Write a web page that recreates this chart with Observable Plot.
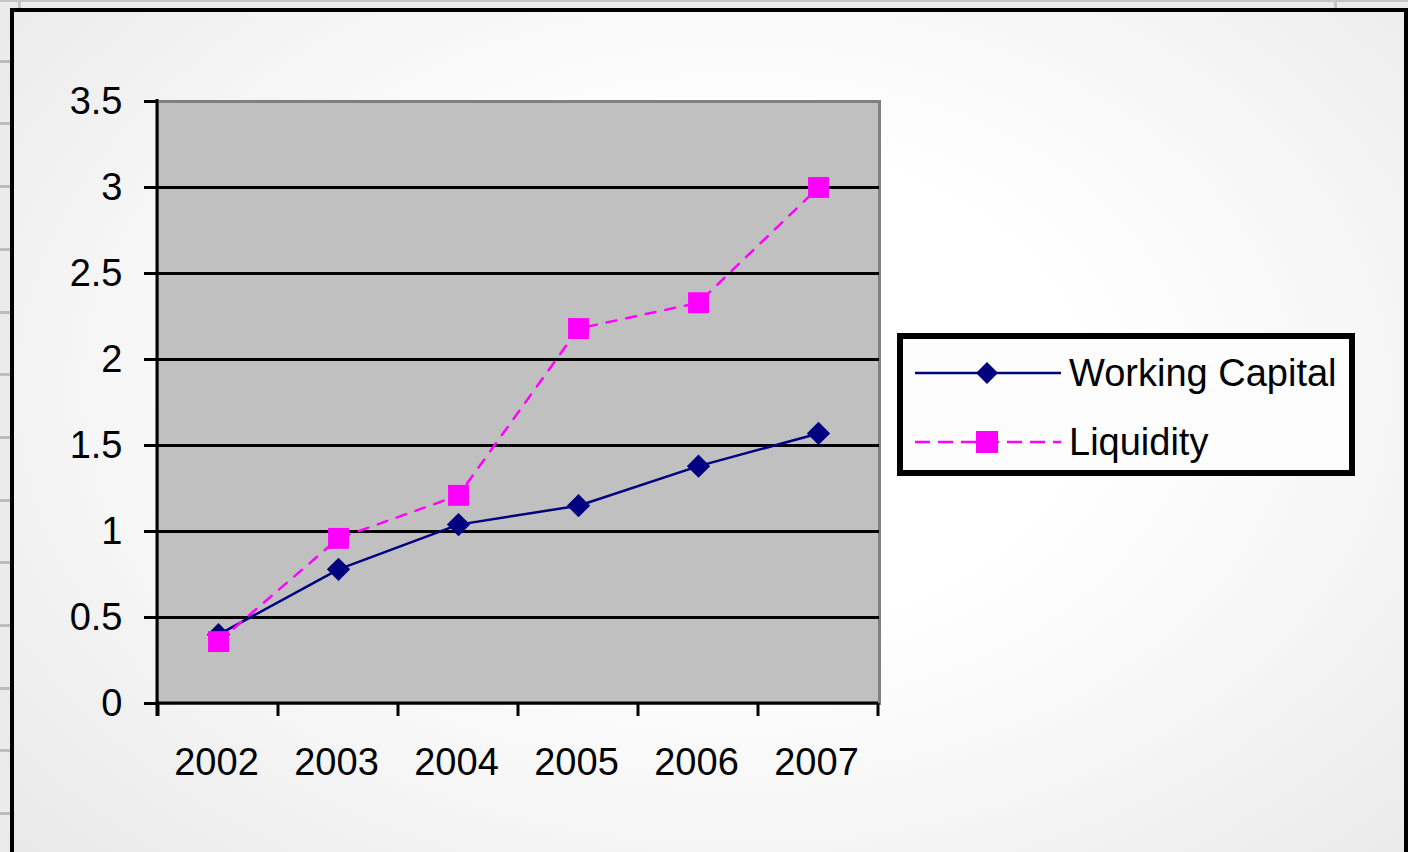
<!DOCTYPE html>
<html>
<head>
<meta charset="utf-8">
<script src="https://cdn.jsdelivr.net/npm/d3@7"></script>
<script src="https://cdn.jsdelivr.net/npm/@observablehq/plot@0.6"></script>
<style>
  html, body { margin: 0; padding: 0; width: 1408px; height: 852px; overflow: hidden; }
  body { background: #ebebeb; position: relative; font-family: "Liberation Sans", Arial, sans-serif; }
  #rows { position: absolute; left: 0; top: 0; width: 10px; height: 852px;
    background: repeating-linear-gradient(to bottom, transparent 0px, transparent 59.7px, #bcbcbc 59.7px, #bcbcbc 62.7px, transparent 62.7px, transparent 61.7px);
  }
  #topline { position: absolute; left: 0; top: 0; width: 1408px; height: 2px; background: #c4c4c4; }
  .vcol { position: absolute; top: 0; width: 3px; height: 8px; background: #c4c4c4; }
  #frame { position: absolute; left: 10px; top: 8px; width: 1390px; height: 900px;
    border: 4px solid #000; box-sizing: content-box;
    background: radial-gradient(ellipse 70% 75% at 52% 42%, #ffffff 35%, #f6f6f6 65%, #e9e9e9 100%);
  }
  #chart { position: absolute; left: -1px; top: 0; }
  #legend { position: absolute; left: 897px; top: 333px; width: 446px; height: 131px;
    border: 6px solid #000; background: #fdfdfd; }
  .item { position: absolute; left: 0; height: 40px; display: flex; align-items: center; }
  .item svg { margin-left: 12px; }
  .item span { margin-left: 8px; font-size: 38px; color: #000; line-height: 40px; }
</style>
</head>
<body>
<div id="topline"></div>
<div class="vcol" style="left:18px"></div>
<div class="vcol" style="left:1334px"></div>
<div id="rows"></div>
<div id="frame"></div>
<div id="chart"></div>
<div id="legend"></div>
<script>
const years = ["2002", "2003", "2004", "2005", "2006", "2007"];
const workingCapital = [0.40, 0.78, 1.04, 1.15, 1.38, 1.57];
const liquidity = [0.36, 0.96, 1.21, 2.18, 2.33, 3.00];
const yTicks = [0, 0.5, 1, 1.5, 2, 2.5, 3, 3.5];
const seriesNames = ["Working Capital", "Liquidity"];

const NAVY = "#000080", MAGENTA = "#ff00ff";
const wc = years.map((year, i) => ({year, value: workingCapital[i]}));
const lq = years.map((year, i) => ({year, value: liquidity[i]}));

function axisLines(index, scales) {
  const x = scales.x, y = scales.y;
  const bw = typeof x.bandwidth === "function" ? x.bandwidth() : scales.scales.x.bandwidth;
  const edges = years.map(v => x(v));
  edges.push(edges[edges.length - 1] + bw);
  const y0 = y(0), yTop = y(3.5);
  const g = d3.create("svg:g").attr("stroke", "#000").attr("stroke-width", 3);
  g.selectAll("line.tk").data(edges).join("line").attr("class", "tk")
    .attr("x1", d => d).attr("x2", d => d).attr("y1", y0).attr("y2", y0 + 13);
  g.append("line").attr("x1", edges[0]).attr("x2", edges[edges.length - 1]).attr("y1", y0).attr("y2", y0);
  g.append("line").attr("x1", edges[0] - 1).attr("x2", edges[0] - 1).attr("y1", yTop - 2).attr("y2", y0 + 13);
  return g.node();
}

const plot = Plot.plot({
  width: 900,
  height: 800,
  marginLeft: 158,
  marginRight: 20,
  marginTop: 101,
  marginBottom: 97,
  style: {background: "transparent", overflow: "visible", fontFamily: "'Liberation Sans', Arial, sans-serif", fontSize: "38px", color: "#000"},
  x: {type: "band", domain: years, padding: 0, label: null},
  y: {domain: [0, 3.5], label: null},
  marks: [
    Plot.frame({fill: "#c0c0c0", stroke: "#808080", strokeWidth: 3}),
    Plot.ruleY(yTicks.filter(t => t > 0 && t < 3.5), {stroke: "#000", strokeWidth: 3}),
    Plot.axisY({ticks: yTicks, tickSize: 13, tickPadding: 22, strokeWidth: 3, fontSize: 38, label: null, tickFormat: d => String(d)}),
    Plot.axisX({tickSize: 0, tickPadding: 45, fontSize: 38, label: null, dx: -2}),
    axisLines,
    Plot.line(wc, {x: "year", y: "value", stroke: NAVY, strokeWidth: 2.5}),
    Plot.dot(wc, {x: "year", y: "value", symbol: "diamond2", r: 10.5, fill: NAVY, stroke: "none"}),
    Plot.line(lq, {x: "year", y: "value", stroke: MAGENTA, strokeWidth: 2.5, strokeDasharray: "10,10"}),
    Plot.dot(lq, {x: "year", y: "value", symbol: "square", r: 11.8, fill: MAGENTA, stroke: "none"})
  ]
});
document.getElementById("chart").appendChild(plot);

// Legend
const legend = document.getElementById("legend");
const styles = [
  {color: NAVY, dash: null, shape: "diamond", top: 14},
  {color: MAGENTA, dash: "15,8", shape: "square", top: 83}
];
seriesNames.forEach((name, i) => {
  const s = styles[i];
  const item = document.createElement("div");
  item.className = "item";
  item.style.top = s.top + "px";
  const svg = d3.create("svg").attr("width", 146).attr("height", 40);
  svg.append("line").attr("x1", 0).attr("x2", 146).attr("y1", 20).attr("y2", 20)
    .attr("stroke", s.color).attr("stroke-width", 2.5).attr("stroke-dasharray", s.dash);
  if (s.shape === "diamond") {
    svg.append("path").attr("d", "M72,9 L83,20 L72,31 L61,20 Z").attr("fill", s.color);
  } else {
    svg.append("rect").attr("x", 61).attr("y", 9).attr("width", 22).attr("height", 22).attr("fill", s.color);
  }
  item.appendChild(svg.node());
  const label = document.createElement("span");
  label.textContent = name;
  item.appendChild(label);
  legend.appendChild(item);
});
</script>
</body>
</html>
